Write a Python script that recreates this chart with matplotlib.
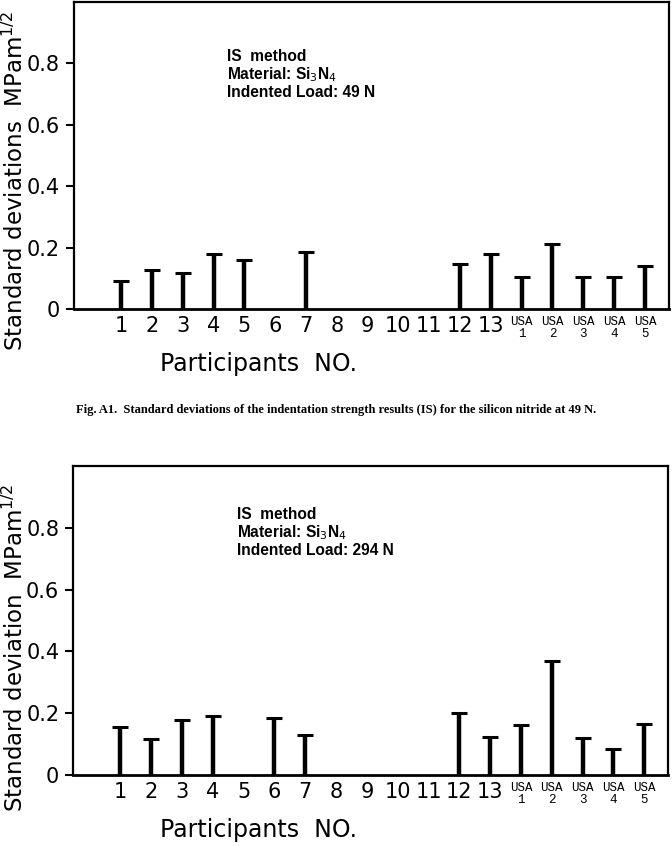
import matplotlib.pyplot as plt

# participant labels and standard deviations (MPa m^1/2)
labels = ['1', '2', '3', '4', '5', '6', '7', '8', '9', '10', '11', '12', '13',
          'USA\n1', 'USA\n2', 'USA\n3', 'USA\n4', 'USA\n5']
sd_49N = [0.091, 0.127, 0.116, 0.179, 0.160, None, 0.184, None, None, None, None,
          0.146, 0.178, 0.103, 0.211, 0.105, 0.105, 0.141]
sd_294N = [0.154, 0.116, 0.179, 0.190, None, 0.186, 0.128, None, None, None, None,
           0.200, 0.123, 0.163, 0.368, 0.119, 0.084, 0.166]

fig = plt.figure(figsize=(6.72, 8.46), dpi=100)
ax1 = fig.add_axes([0.110, 0.6348, 0.8855, 0.3629])
ax2 = fig.add_axes([0.109, 0.0839, 0.8855, 0.3652])


def draw_panel(ax, values, ylabel, load, ly, tx, ty):
    xs = [i for i, v in enumerate(values) if v is not None]
    vs = [v for v in values if v is not None]
    ax.vlines(xs, 0, vs, color='black', lw=3.2)
    ax.plot(xs, vs, ls='none', marker='_', ms=11, mew=2.2, color='black')

    ax.set_xlim(-1.53, 17.78)
    ax.set_ylim(0, 1.0)
    ax.set_yticks([0, 0.2, 0.4, 0.6, 0.8])
    ax.set_yticklabels(['0', '0.2', '0.4', '0.6', '0.8'], fontsize=15)
    ax.tick_params(axis='y', direction='out', length=6, width=1.5, pad=4)
    ax.set_xticks([])
    for i, lab in enumerate(labels):
        if lab.startswith('USA'):
            ax.text(i, -0.022, lab, ha='center', va='top', fontsize=9,
                    family='Liberation Mono', linespacing=1.05, clip_on=False)
        else:
            ax.text(i, -0.022, lab, ha='center', va='top', fontsize=15,
                    clip_on=False)
    for s in ax.spines.values():
        s.set_linewidth(1.6)
    ax.spines['bottom'].set_linewidth(2.0)

    ax.set_ylabel(ylabel, fontsize=16.5)
    ax.yaxis.set_label_coords(-0.077, ly)
    ax.text(1.27, -0.178, 'Participants  NO.', ha='left', va='center', fontsize=17,
            clip_on=False)

    ax.text(tx, ty, 'IS  method\nMaterial: Si$_3$N$_4$\nIndented Load: ' + load,
            ha='left', va='top', fontsize=11.2, fontweight='bold',
            family='Liberation Sans', linespacing=1.1)


draw_panel(ax1, sd_49N, 'Standard deviations  MPam$^{1/2}$', '49 N', 0.417, 3.44, 0.847)
draw_panel(ax2, sd_294N, 'Standard deviation  MPam$^{1/2}$', '294 N', 0.41, 3.80, 0.868)

fig.text(0.5, 0.515,
         'Fig. A1.  Standard deviations of the indentation strength results (IS) '
         'for the silicon nitride at 49 N.',
         ha='center', va='center', fontsize=9, family='Liberation Serif',
         fontweight='bold')

fig.savefig('out.png', dpi=100)
